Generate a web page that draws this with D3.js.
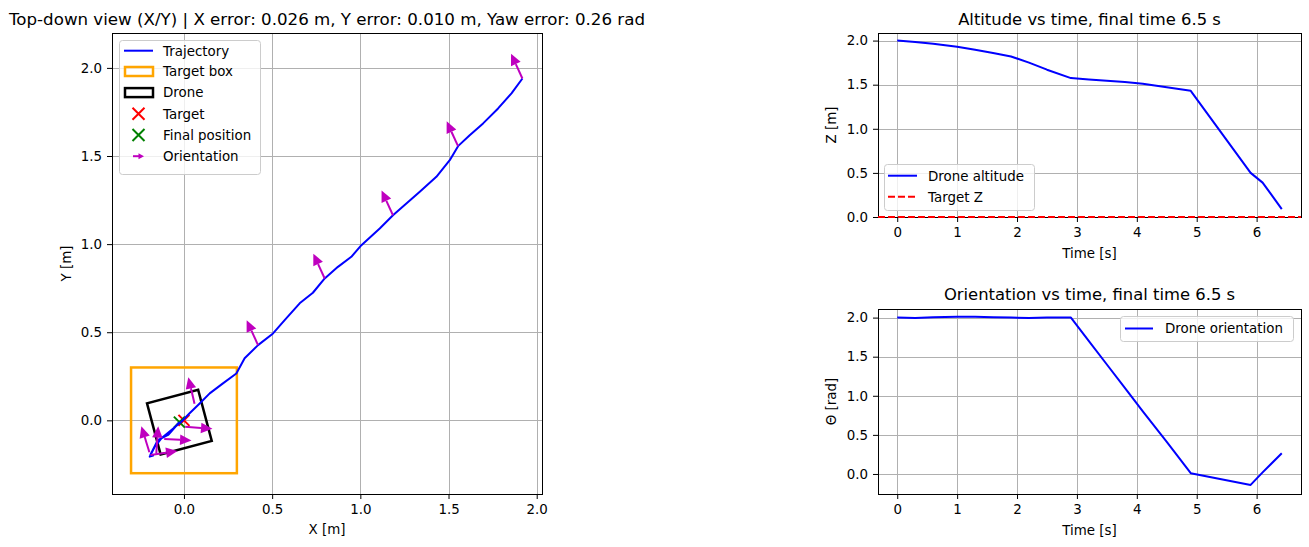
<!DOCTYPE html>
<html>
<head>
<meta charset="utf-8">
<script src="https://cdn.jsdelivr.net/npm/d3@7"></script>
<style>
  body { margin: 0; background: #fff; }
  svg { font-family: "DejaVu Sans", sans-serif; }
</style>
</head>
<body>
<script>
// ---- data ----
var trajX = [1.919, 1.857, 1.781, 1.696, 1.620, 1.554, 1.507, 1.431, 1.337, 1.261, 1.185, 1.110, 1.006, 0.949, 0.873, 0.798, 0.731, 0.656, 0.571, 0.505, 0.420, 0.344, 0.297, 0.221, 0.146, 0.089, 0.032, -0.015, -0.071, -0.128, -0.166, -0.194, -0.175, -0.190, -0.148, -0.090, -0.030, -0.026];
var trajY = [1.940, 1.855, 1.770, 1.685, 1.618, 1.556, 1.476, 1.382, 1.297, 1.231, 1.164, 1.089, 0.994, 0.928, 0.871, 0.805, 0.724, 0.664, 0.569, 0.493, 0.427, 0.352, 0.266, 0.210, 0.153, 0.096, 0.040, -0.008, -0.055, -0.102, -0.150, -0.206, -0.200, -0.195, -0.112, -0.083, -0.015, -0.010];

var arrowX = [1.919, 1.554, 1.185, 0.798, 0.420, 0.060, 0.007, -0.112, -0.196, -0.157, -0.190];
var arrowY = [1.940, 1.556, 1.164, 0.805, 0.427, 0.094, -0.036, -0.106, -0.181, -0.188, -0.197];
var arrowYaw = [2.0, 2.0, 2.0, 2.0, 2.0, 1.80, -0.08, -0.05, 1.87, 1.50, 0.15];

var targetBox = [-0.3, 0.3];
var targetPos = [0.0, 0.0];
var finalPos = [-0.026, -0.010];
var finalYaw = 0.26;
var droneSize = 0.3;

var times = [0, 0.3, 0.6, 1.0, 1.3, 1.6, 1.9, 2.2, 2.5, 2.9, 3.2, 3.5, 3.8, 4.1, 4.5, 4.9, 5.9, 6.1, 6.42];
var altitude = [2.00, 1.985, 1.965, 1.93, 1.895, 1.86, 1.82, 1.75, 1.67, 1.575, 1.56, 1.545, 1.53, 1.51, 1.47, 1.43, 0.50, 0.39, 0.09];
var orientation = [2.00, 1.995, 2.005, 2.01, 2.01, 2.005, 2.00, 1.995, 2.00, 2.00, 1.70, 1.40, 1.10, 0.80, 0.41, 0.01, -0.14, 0.02, 0.265];
var targetZ = 0;

var posTicks = [0, 0.5, 1.0, 1.5, 2.0];
var timeTicks = [0, 1, 2, 3, 4, 5, 6];
var valueTicks = [0, 0.5, 1.0, 1.5, 2.0];

var titleXY = 'Top-down view (X/Y) | X error: 0.026 m, Y error: 0.010 m, Yaw error: 0.26 rad';
var titleZ = 'Altitude vs time, final time 6.5 s';
var titleYaw = 'Orientation vs time, final time 6.5 s';

// ---- setup ----
var FS = 13.4, TFS = 16.4;
var BLUE = '#0000ff', MAG = '#bf00bf', ORANGE = '#ffa500', GREEN = '#008000', RED = '#ff0000';
var SHAFT = 0.09, HEAD_L = 0.065, HEAD_W = 0.06;
var svg = d3.select('body').append('svg').attr('width', 1309).attr('height', 547);
var fmt1 = d3.format('.1f'), fmtInt = d3.format('d');

var makeClip = function(id, x, y) {
  svg.append('clipPath').attr('id', id).append('rect')
    .attr('x', x.range()[0]).attr('y', y.range()[1])
    .attr('width', x.range()[1] - x.range()[0]).attr('height', y.range()[0] - y.range()[1]);
};

var addGrid = function(g, x, y, xTicks, yTicks) {
  g.append('g').selectAll('line').data(xTicks).enter().append('line')
    .attr('x1', function(d) { return Math.round(x(d)) + 0.5; }).attr('x2', function(d) { return Math.round(x(d)) + 0.5; })
    .attr('y1', y.range()[0]).attr('y2', y.range()[1])
    .attr('stroke', '#b0b0b0').attr('stroke-width', 1);
  g.append('g').selectAll('line').data(yTicks).enter().append('line')
    .attr('y1', function(d) { return Math.round(y(d)) + 0.5; }).attr('y2', function(d) { return Math.round(y(d)) + 0.5; })
    .attr('x1', x.range()[0]).attr('x2', x.range()[1])
    .attr('stroke', '#b0b0b0').attr('stroke-width', 1);
};

var addAxes = function(g, x, y, xTicks, yTicks, xFmt, yFmt) {
  var xa, ya;
  xa = g.append('g').attr('transform', 'translate(0,' + y.range()[0] + ')')
    .call(d3.axisBottom(x).tickValues(xTicks).tickFormat(xFmt).tickSize(5).tickPadding(5.5));
  ya = g.append('g').attr('transform', 'translate(' + x.range()[0] + ',0)')
    .call(d3.axisLeft(y).tickValues(yTicks).tickFormat(yFmt).tickSize(5).tickPadding(5));
  [xa, ya].forEach(function(a) {
    a.attr('font-family', '"DejaVu Sans", sans-serif').attr('font-size', FS);
    a.select('.domain').remove();
    a.selectAll('text').attr('fill', '#000');
    a.selectAll('line').attr('stroke', '#000');
  });
  g.append('rect')
    .attr('x', x.range()[0] + 0.5).attr('y', y.range()[1] + 0.5)
    .attr('width', x.range()[1] - x.range()[0]).attr('height', y.range()[0] - y.range()[1])
    .attr('fill', 'none').attr('stroke', '#000').attr('stroke-width', 1);
};

var addLabels = function(g, x, y, title, titleY, xLabel, xLabelY, yLabel, yLabelX, titleLen) {
  var cx = (x.range()[0] + x.range()[1]) / 2, cy = (y.range()[0] + y.range()[1]) / 2;
  var t = g.append('text').attr('x', cx).attr('y', titleY).attr('text-anchor', 'middle')
    .attr('font-size', TFS).text(title);
  if (titleLen) t.attr('textLength', titleLen).attr('lengthAdjust', 'spacingAndGlyphs');
  g.append('text').attr('x', cx).attr('y', xLabelY).attr('text-anchor', 'middle').attr('font-size', FS).text(xLabel);
  g.append('text').attr('transform', 'translate(' + yLabelX + ',' + cy + ') rotate(-90)')
    .attr('text-anchor', 'middle').attr('font-size', FS).text(yLabel);
};

var legendBox = function(g, x0, y0, w, h) {
  g.append('rect').attr('x', x0 + 0.5).attr('y', y0 + 0.5).attr('width', w).attr('height', h)
    .attr('rx', 3).attr('fill', 'rgba(255,255,255,0.8)').attr('stroke', '#cccccc').attr('stroke-width', 1);
};

var legendText = function(g, x0, y0, label) {
  g.append('text').attr('x', x0).attr('y', y0).attr('dy', '0.36em').attr('font-size', FS).text(label);
};

var xMark = function(g, px, py, r, color) {
  g.append('path').attr('d', 'M' + (px - r) + ',' + (py - r) + 'L' + (px + r) + ',' + (py + r) +
    'M' + (px - r) + ',' + (py + r) + 'L' + (px + r) + ',' + (py - r))
    .attr('stroke', color).attr('stroke-width', 2).attr('fill', 'none');
};

// ---- top-down panel ----
var xPos = d3.scaleLinear().domain([-0.408, 2.030]).range([112, 542]);
var yPos = d3.scaleLinear().domain([-0.418, 2.198]).range([494, 33]);
var gL = svg.append('g');
makeClip('clipL', xPos, yPos);
addGrid(gL, xPos, yPos, posTicks, posTicks);

var plotL = gL.append('g').attr('clip-path', 'url(#clipL)');

plotL.append('rect')
  .attr('x', xPos(targetBox[0])).attr('y', yPos(targetBox[1]))
  .attr('width', xPos(targetBox[1]) - xPos(targetBox[0])).attr('height', yPos(targetBox[0]) - yPos(targetBox[1]))
  .attr('fill', 'none').attr('stroke', ORANGE).attr('stroke-width', 2.5);

var half = droneSize / 2;
var droneCorners = [[-half, -half], [half, -half], [half, half], [-half, half]].map(function(c) {
  var cs = Math.cos(finalYaw), sn = Math.sin(finalYaw);
  return [xPos(finalPos[0] + c[0] * cs - c[1] * sn), yPos(finalPos[1] + c[0] * sn + c[1] * cs)];
});
plotL.append('path').attr('d', 'M' + droneCorners.join('L') + 'Z')
  .attr('fill', 'none').attr('stroke', '#000').attr('stroke-width', 2.5).attr('stroke-linejoin', 'miter');

xMark(plotL, xPos(targetPos[0]), yPos(targetPos[1]), 5.5, RED);
xMark(plotL, xPos(finalPos[0]), yPos(finalPos[1]), 5.5, GREEN);

var trajLine = d3.line().x(function(i) { return xPos(trajX[i]); }).y(function(i) { return yPos(trajY[i]); });
plotL.append('path').attr('d', trajLine(d3.range(trajX.length)))
  .attr('fill', 'none').attr('stroke', BLUE).attr('stroke-width', 2).attr('stroke-linejoin', 'round');

// orientation arrows (data units)
var arrows = plotL.append('g').selectAll('g').data(d3.range(arrowX.length)).enter().append('g');
arrows.append('line')
  .attr('x1', function(i) { return xPos(arrowX[i]); })
  .attr('y1', function(i) { return yPos(arrowY[i]); })
  .attr('x2', function(i) { return xPos(arrowX[i] + SHAFT * Math.cos(arrowYaw[i])); })
  .attr('y2', function(i) { return yPos(arrowY[i] + SHAFT * Math.sin(arrowYaw[i])); })
  .attr('stroke', MAG).attr('stroke-width', 2);
arrows.append('path').attr('fill', MAG).attr('d', function(i) {
  var c = Math.cos(arrowYaw[i]), s = Math.sin(arrowYaw[i]);
  var bx = arrowX[i] + SHAFT * c, by = arrowY[i] + SHAFT * s;
  var tip = [xPos(bx + HEAD_L * c), yPos(by + HEAD_L * s)];
  var l = [xPos(bx - HEAD_W / 2 * s), yPos(by + HEAD_W / 2 * c)];
  var r = [xPos(bx + HEAD_W / 2 * s), yPos(by - HEAD_W / 2 * c)];
  return 'M' + tip + 'L' + l + 'L' + r + 'Z';
});

addAxes(gL, xPos, yPos, posTicks, posTicks, fmt1, fmt1);
addLabels(gL, xPos, yPos, titleXY, 25, 'X [m]', 534, 'Y [m]', 71, 636);

// legend (top-down)
var lg = gL.append('g');
legendBox(lg, 119, 40, 141, 134);
var rowY = [50.7, 71.5, 92.6, 113.8, 135, 156.2];
lg.append('line').attr('x1', 124).attr('x2', 153).attr('y1', rowY[0]).attr('y2', rowY[0]).attr('stroke', BLUE).attr('stroke-width', 2);
lg.append('rect').attr('x', 125).attr('y', rowY[1] - 4.5).attr('width', 28).attr('height', 9)
  .attr('fill', 'none').attr('stroke', ORANGE).attr('stroke-width', 2.5);
lg.append('rect').attr('x', 125).attr('y', rowY[2] - 4.5).attr('width', 28).attr('height', 9)
  .attr('fill', 'none').attr('stroke', '#000').attr('stroke-width', 2.5);
xMark(lg, 138.5, rowY[3], 6, RED);
xMark(lg, 138.5, rowY[4], 6, GREEN);
lg.append('line').attr('x1', 133).attr('x2', 139).attr('y1', rowY[5]).attr('y2', rowY[5]).attr('stroke', MAG).attr('stroke-width', 2);
lg.append('path').attr('d', 'M144,' + rowY[5] + 'L138.5,' + (rowY[5] - 3) + 'L138.5,' + (rowY[5] + 3) + 'Z').attr('fill', MAG);
['Trajectory', 'Target box', 'Drone', 'Target', 'Final position', 'Orientation'].forEach(function(t, i) {
  legendText(lg, 163, rowY[i], t);
});

// ---- time panels ----
var xTime = d3.scaleLinear().domain([-0.321, 6.741]).range([878, 1301]);
var yZ = d3.scaleLinear().domain([0, 2.086]).range([217, 33]);
var yYaw = d3.scaleLinear().domain([-0.256, 2.11]).range([494, 309]);

var gZ = svg.append('g');
makeClip('clipZ', xTime, yZ);
addGrid(gZ, xTime, yZ, timeTicks, valueTicks);
var lineZ = d3.line().x(function(i) { return xTime(times[i]); }).y(function(i) { return yZ(altitude[i]); });
gZ.append('g').attr('clip-path', 'url(#clipZ)').append('path').attr('d', lineZ(d3.range(times.length)))
  .attr('fill', 'none').attr('stroke', BLUE).attr('stroke-width', 2).attr('stroke-linejoin', 'round');
addAxes(gZ, xTime, yZ, timeTicks, valueTicks, fmtInt, fmt1);
gZ.append('line').attr('x1', xTime.range()[0]).attr('x2', xTime.range()[1])
  .attr('y1', yZ(targetZ)).attr('y2', yZ(targetZ))
  .attr('stroke', RED).attr('stroke-width', 2).attr('stroke-dasharray', '7,3');
addLabels(gZ, xTime, yZ, titleZ, 25, 'Time [s]', 258, 'Z [m]', 836);

var lz = gZ.append('g');
legendBox(lz, 884, 164, 150, 46);
lz.append('line').attr('x1', 888).attr('x2', 917).attr('y1', 175.7).attr('y2', 175.7).attr('stroke', BLUE).attr('stroke-width', 2);
lz.append('line').attr('x1', 888).attr('x2', 917).attr('y1', 196.7).attr('y2', 196.7).attr('stroke', RED).attr('stroke-width', 2).attr('stroke-dasharray', '7,3');
legendText(lz, 928, 175.7, 'Drone altitude');
legendText(lz, 928, 196.7, 'Target Z');

var gY = svg.append('g');
makeClip('clipY', xTime, yYaw);
addGrid(gY, xTime, yYaw, timeTicks, valueTicks);
var lineYaw = d3.line().x(function(i) { return xTime(times[i]); }).y(function(i) { return yYaw(orientation[i]); });
gY.append('g').attr('clip-path', 'url(#clipY)').append('path').attr('d', lineYaw(d3.range(times.length)))
  .attr('fill', 'none').attr('stroke', BLUE).attr('stroke-width', 2).attr('stroke-linejoin', 'round');
addAxes(gY, xTime, yYaw, timeTicks, valueTicks, fmtInt, fmt1);
addLabels(gY, xTime, yYaw, titleYaw, 300, 'Time [s]', 535, '\u0398 [rad]', 836);

var ly = gY.append('g');
legendBox(ly, 1120, 316, 173, 25);
ly.append('line').attr('x1', 1125).attr('x2', 1153).attr('y1', 328.5).attr('y2', 328.5).attr('stroke', BLUE).attr('stroke-width', 2);
legendText(ly, 1165, 328.5, 'Drone orientation');
</script>
</body>
</html>
